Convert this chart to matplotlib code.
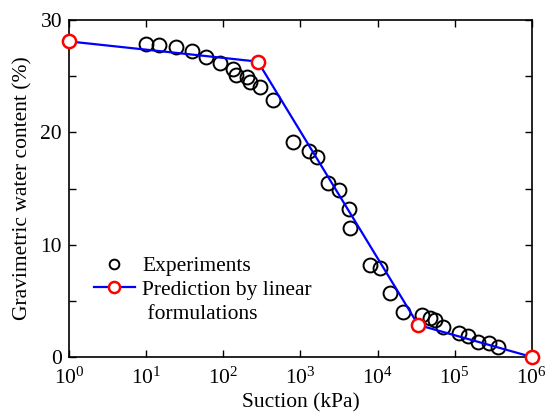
import matplotlib
matplotlib.use('Agg')
import matplotlib.pyplot as plt
from matplotlib.lines import Line2D
from matplotlib.ticker import MultipleLocator, LogLocator, NullLocator

# experiments: suction (kPa) and gravimetric water content (%)
EXP_SUCTION = [10.1, 14.7, 24.7, 39.8, 59.2, 89.7, 133.7, 144.5, 204.6, 219.8,
               298.5, 444.6, 798.0, 1285, 1648, 2265, 3141, 4315, 4446,
               8000, 10860, 14660, 21580, 37670, 48190, 55980, 69500,
               114300, 149600, 201400, 279300, 365600]
EXP_WATER = [27.9, 27.8, 27.6, 27.25, 26.7, 26.2, 25.6, 25.1, 24.95, 24.5,
             24.0, 22.9, 19.1, 18.3, 17.8, 15.5, 14.9, 13.2, 11.5,
             8.2, 7.9, 5.7, 4.0, 3.75, 3.45, 3.3, 2.7,
             2.1, 1.85, 1.3, 1.2, 0.9]

# linear formulation break points
PRED_SUCTION = [1, 281, 33700, 1e6]
PRED_WATER = [28.1, 26.3, 2.85, 0.0]

plt.rcParams['font.family'] = ['Liberation Serif', 'DejaVu Serif']
plt.rcParams['mathtext.fontset'] = 'custom'
plt.rcParams['mathtext.rm'] = 'Liberation Serif'
plt.rcParams['mathtext.it'] = 'Liberation Serif:italic'
plt.rcParams['mathtext.bf'] = 'Liberation Serif:bold'


def main():
    fig = plt.figure(figsize=(5.59, 4.18), dpi=100)
    ax = fig.add_axes([0.1234, 0.146, 0.828, 0.806])

    ax.plot(EXP_SUCTION, EXP_WATER, ls='none', marker='o', ms=10, mfc='none',
            mec='black', mew=1.4, clip_on=False, zorder=3)
    ax.plot(PRED_SUCTION, PRED_WATER, color='#0000ff', lw=1.6, marker='o', ms=9.5,
            mfc='white', mec='#ff0000', mew=1.8, clip_on=False, zorder=4)

    ax.set_xscale('log')
    ax.set_xlim(1, 1e6)
    ax.set_ylim(0, 30)
    ax.xaxis.set_major_locator(LogLocator(base=10, numticks=10))
    ax.xaxis.set_minor_locator(NullLocator())
    ax.yaxis.set_major_locator(MultipleLocator(10))
    ax.yaxis.set_minor_locator(MultipleLocator(5))

    ax.tick_params(which='both', direction='in', top=True, right=True,
                   labelsize=15.5, width=1.0, length=5)
    ax.tick_params(axis='y', pad=5)
    ax.tick_params(axis='x', pad=8)
    for s in ax.spines.values():
        s.set_linewidth(1.2)

    ax.set_xlabel('Suction (kPa)', fontsize=15.5, labelpad=3)
    ax.set_ylabel('Gravimetric water content (%)', fontsize=15.5, labelpad=6)

    # second label line as a handle-less entry so the red marker sits on line one
    handles = [
        Line2D([0], [0], ls='none', marker='o', ms=7, mfc='none', mec='black', mew=1.4),
        Line2D([0], [0], color='#0000ff', lw=1.6, marker='o', ms=8,
               mfc='white', mec='#ff0000', mew=1.8),
        Line2D([0], [0], ls='none'),
    ]
    labels = ['Experiments', 'Prediction by linear', ' formulations']
    ax.legend(handles, labels, loc='upper left', bbox_to_anchor=(0.035, 0.325),
              frameon=False, fontsize=15.5, handlelength=1.9, handletextpad=0.35,
              labelspacing=0.17, borderaxespad=0)

    fig.savefig('out.png', dpi=100)
    plt.close(fig)


if __name__ == '__main__':
    main()
